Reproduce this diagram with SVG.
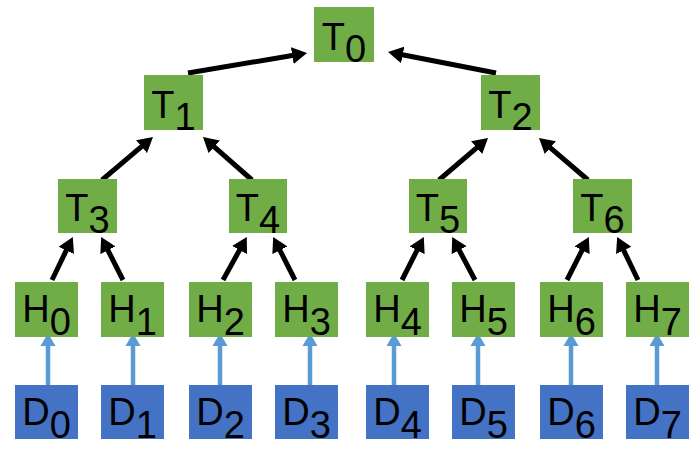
<svg xmlns="http://www.w3.org/2000/svg" width="700" height="464" viewBox="0 0 700 464">
<style>
.g{fill:#70AD47}
.b{fill:#4472C4}
text{font-family:"Liberation Sans",Arial,sans-serif;font-size:38px;fill:#000;text-anchor:middle}
.k{stroke:#000;stroke-width:5;fill:none;marker-end:url(#ak)}
.u{stroke:#5B9BD5;stroke-width:4.5;fill:none;marker-end:url(#au)}
</style>
<defs>
<marker id="ak" markerUnits="userSpaceOnUse" markerWidth="16" markerHeight="18" refX="3" refY="8.5" orient="auto" viewBox="0 0 16 17">
<path d="M0,0 L15,8.5 L0,17 z" fill="#000"/>
</marker>
<marker id="au" markerUnits="userSpaceOnUse" markerWidth="14" markerHeight="16" refX="2" refY="7.5" orient="auto" viewBox="0 0 14 15">
<path d="M0,0 L13,7.5 L0,15 z" fill="#5B9BD5"/>
</marker>
</defs>
<g id="connectors">
<line class="k" x1="188" y1="73" x2="295.2" y2="55.0"/>
<line class="k" x1="496" y1="73" x2="399.8" y2="54.3"/>
<line class="k" x1="102" y1="180" x2="143.8" y2="144.7"/>
<line class="k" x1="252" y1="180" x2="212.0" y2="144.9"/>
<line class="k" x1="439" y1="180" x2="478.9" y2="145.8"/>
<line class="k" x1="588" y1="180" x2="548.1" y2="145.8"/>
<line class="k" x1="52" y1="280" x2="67.6" y2="247.7"/>
<line class="k" x1="123" y1="280" x2="106.6" y2="247.6"/>
<line class="k" x1="223" y1="280" x2="241.0" y2="247.4"/>
<line class="k" x1="295" y1="280" x2="278.6" y2="247.6"/>
<line class="k" x1="402" y1="280" x2="418.4" y2="247.6"/>
<line class="k" x1="475" y1="280" x2="457.8" y2="247.5"/>
<line class="k" x1="567" y1="280" x2="583.4" y2="247.6"/>
<line class="k" x1="638" y1="280" x2="622.4" y2="247.7"/>
<line class="u" x1="48" y1="386" x2="48" y2="344"/>
<line class="u" x1="133" y1="386" x2="133" y2="344"/>
<line class="u" x1="220" y1="386" x2="220" y2="344"/>
<line class="u" x1="310" y1="386" x2="310" y2="344"/>
<line class="u" x1="394" y1="386" x2="394" y2="344"/>
<line class="u" x1="478" y1="386" x2="478" y2="344"/>
<line class="u" x1="571" y1="386" x2="571" y2="344"/>
<line class="u" x1="657" y1="386" x2="657" y2="344"/>
</g>
<g id="T0"><rect class="g" x="314" y="7" width="60" height="55"/><text x="344" y="50">T<tspan dy="12">0</tspan></text></g>
<g id="T1"><rect class="g" x="144" y="75" width="59" height="55"/><text x="173.5" y="118">T<tspan dy="12">1</tspan></text></g>
<g id="T2"><rect class="g" x="481" y="75" width="59" height="55"/><text x="510.5" y="118">T<tspan dy="12">2</tspan></text></g>
<g id="T3"><rect class="g" x="58" y="179" width="59" height="54"/><text x="87.5" y="221">T<tspan dy="12">3</tspan></text></g>
<g id="T4"><rect class="g" x="229" y="179" width="58" height="54"/><text x="258" y="221">T<tspan dy="12">4</tspan></text></g>
<g id="T5"><rect class="g" x="409" y="179" width="58" height="54"/><text x="438" y="221">T<tspan dy="12">5</tspan></text></g>
<g id="T6"><rect class="g" x="573" y="179" width="59" height="54"/><text x="602.5" y="221">T<tspan dy="12">6</tspan></text></g>
<g id="H0"><rect class="g" x="15" y="282" width="63" height="55"/><text x="46.5" y="322">H<tspan dy="13">0</tspan></text></g>
<g id="H1"><rect class="g" x="101" y="282" width="63" height="55"/><text x="132.5" y="322">H<tspan dy="13">1</tspan></text></g>
<g id="H2"><rect class="g" x="189" y="282" width="63" height="55"/><text x="220.5" y="322">H<tspan dy="13">2</tspan></text></g>
<g id="H3"><rect class="g" x="275" y="282" width="63" height="55"/><text x="306.5" y="322">H<tspan dy="13">3</tspan></text></g>
<g id="H4"><rect class="g" x="366" y="282" width="63" height="55"/><text x="397.5" y="322">H<tspan dy="13">4</tspan></text></g>
<g id="H5"><rect class="g" x="452" y="282" width="63" height="55"/><text x="483.5" y="322">H<tspan dy="13">5</tspan></text></g>
<g id="H6"><rect class="g" x="540" y="282" width="63" height="55"/><text x="571.5" y="322">H<tspan dy="13">6</tspan></text></g>
<g id="H7"><rect class="g" x="626" y="282" width="63" height="55"/><text x="657.5" y="322">H<tspan dy="13">7</tspan></text></g>
<g id="D0"><rect class="b" x="15" y="385" width="63" height="54"/><text x="46.5" y="425">D<tspan dy="13">0</tspan></text></g>
<g id="D1"><rect class="b" x="101" y="385" width="63" height="54"/><text x="132.5" y="425">D<tspan dy="13">1</tspan></text></g>
<g id="D2"><rect class="b" x="189" y="385" width="63" height="54"/><text x="220.5" y="425">D<tspan dy="13">2</tspan></text></g>
<g id="D3"><rect class="b" x="275" y="385" width="63" height="54"/><text x="306.5" y="425">D<tspan dy="13">3</tspan></text></g>
<g id="D4"><rect class="b" x="366" y="385" width="63" height="54"/><text x="397.5" y="425">D<tspan dy="13">4</tspan></text></g>
<g id="D5"><rect class="b" x="452" y="385" width="63" height="54"/><text x="483.5" y="425">D<tspan dy="13">5</tspan></text></g>
<g id="D6"><rect class="b" x="540" y="385" width="63" height="54"/><text x="571.5" y="425">D<tspan dy="13">6</tspan></text></g>
<g id="D7"><rect class="b" x="626" y="385" width="63" height="54"/><text x="657.5" y="425">D<tspan dy="13">7</tspan></text></g>
</svg>
